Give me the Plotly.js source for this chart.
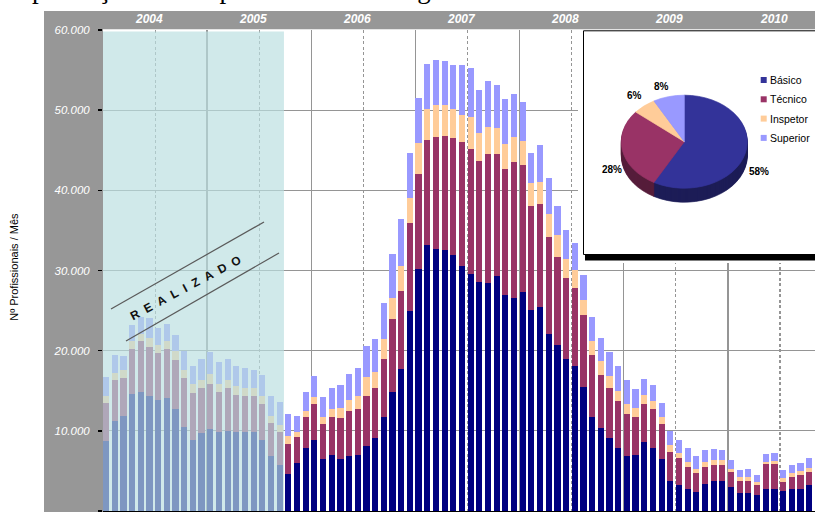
<!DOCTYPE html>
<html>
<head>
<meta charset="utf-8">
<script src="https://cdn.plot.ly/plotly-3.0.1.min.js"></script>
<style>
  html, body { margin: 0; padding: 0; background: #ffffff; }
  #chart { width: 815px; height: 512px; }
</style>
</head>
<body>
<div id="chart"></div>
<script>
// Monthly headcount by professional category, starting January 2004 (one bar per month)
const basico = [
  8700, 11200, 11900, 14600, 14800, 14300, 13800, 14100, 12700, 10500, 8900, 9700,
  10200, 9900, 10000, 9900, 9900, 9900, 8900, 6900, 5800, 4600, 6000, 7800,
  8800, 6500, 7000, 6500, 6800, 7000, 8100, 9100, 11700, 14800, 17700, 25000,
  30200, 33200, 32700, 32600, 31900, 30600, 29600, 28600, 28500, 29300, 26900, 26600,
  27300, 25100, 25500, 22100, 20700, 18900, 18100, 15500, 11700, 10300, 9100, 7800,
  6800, 7000, 8600, 7900, 6500, 3800, 3200, 2700, 2400, 3400, 3800, 3800,
  3000, 2200, 2200, 2000, 2700, 2800, 2500, 2800, 2800, 3300
];
const tecnico = [
  4800, 5200, 4700, 5600, 6400, 6200, 5900, 6100, 6100, 6100, 5800, 5600,
  5600, 4900, 5300, 4600, 4500, 4400, 4400, 4100, 4100, 3800, 3200, 3900,
  4500, 4300, 4700, 5100, 5700, 5700, 6200, 6200, 7200, 9100, 9800, 10900,
  11900, 13100, 14000, 14200, 14600, 15400, 15500, 15100, 16000, 15200, 15800, 16900,
  15900, 12900, 12800, 12100, 11000, 10200, 9700, 9000, 7700, 6700, 6200, 5900,
  5300, 4700, 4700, 4800, 4300, 3600, 3400, 2800, 2300, 2100, 2000, 2000,
  1900, 1600, 1500, 1300, 3200, 3100, 1100, 1500, 1700, 1600
];
const inspetor = [
  900, 800, 1000, 1000, 900, 1100, 1000, 1000, 1100, 1000, 1100, 1100,
  1300, 1100, 1100, 1100, 1000, 1000, 1000, 800, 800, 900, 700, 800,
  900, 900, 1000, 1200, 1300, 1700, 2400, 2100, 2500, 2700, 3100, 3200,
  3800, 3900, 3900, 3900, 3700, 3400, 4100, 3400, 3400, 3300, 3100, 3100,
  2900, 2900, 2700, 2800, 2700, 2300, 2300, 1800, 1800, 1700, 1500, 1300,
  1300, 1200, 1200, 1000, 900, 800, 600, 600, 600, 600, 600, 600,
  300, 500, 500, 300, 200, 300, 500, 500, 500, 500
];
const superior = [
  2300, 2300, 1700, 2000, 2100, 2500, 2100, 2100, 2100, 2400, 2300, 2500,
  2700, 2700, 2600, 2500, 2500, 2300, 2700, 2500, 2900, 2800, 2000, 2300,
  2600, 2500, 2600, 2900, 3300, 3400, 3900, 4000, 4600, 5400, 5800, 5600,
  5600, 5600, 5700, 5400, 5400, 6200, 6100, 5400, 5700, 5400, 5600, 5400,
  4900, 3800, 4600, 4500, 3700, 3600, 3300, 3200, 3000, 2900, 3000, 3100,
  3000, 2300, 2000, 2000, 1800, 1800, 1700, 1700, 1500, 1500, 1300, 1200,
  1200, 800, 1000, 900, 1000, 1000, 1000, 1000, 1000, 1200
];

// Months already executed (start of the series)
const realizedMonths = 21;

const years = ['2004', '2005', '2006', '2007', '2008', '2009', '2010'];
const yTickVals = [0, 10000, 20000, 30000, 40000, 50000, 60000];
const yTickText = ['0', '10.000', '20.000', '30.000', '40.000', '50.000', '60.000'];

// Overall share by category (inset pie)
const pieLabels = ['Básico', 'Técnico', 'Inspetor', 'Superior'];
const pieValues = [58, 28, 6, 8];

// ---------- styling ----------
const barColors = ['#000080', '#993366', '#FFCC99', '#9999FF'];
const pieColors = ['#333399', '#993366', '#FFCC99', '#9999FF'];
const pieSideColors = ['#1d1d57', '#561d3a', '#a3825f', '#5f5fa3'];
const panelGray = '#979797';
const gridGray = '#959595';

const W = 815, H = 512;
const M = { l: 103, r: 0, t: 30, b: 1 };
const plotW = W - M.l - M.r, plotH = H - M.t - M.b;
const px = v => (v - M.l) / plotW;          // pixel -> paper x
const py = v => (H - M.b - v) / plotH;      // pixel -> paper y

const monthIndex = basico.map((_, i) => i);

const series = [
  { name: 'Básico', y: basico },
  { name: 'Técnico', y: tecnico },
  { name: 'Inspetor', y: inspetor },
  { name: 'Superior', y: superior }
];

const traces = series.map((s, k) => ({
  type: 'bar',
  name: s.name,
  x: monthIndex,
  y: s.y,
  width: 0.71,
  offset: 0,
  marker: { color: barColors[k], line: { width: 0 } },
  showlegend: false,
  hoverinfo: 'skip'
}));

// empty trace that hosts the inset frame subplot
traces.push({ type: 'scatter', x: [], y: [], xaxis: 'x2', yaxis: 'y2', showlegend: false, hoverinfo: 'skip' });

// inset pie: darker layers stacked below the top face give the 3D rim
const pie = { cx: 684.3, cy: 141.7, r: 46.5, depth: 14, stretch: 63 / 46.5 };
for (let d = pie.depth; d >= 0; d--) {
  const cols = d === 0 ? pieColors : pieSideColors;
  traces.push({
    type: 'pie',
    values: pieValues,
    labels: pieLabels,
    sort: false,
    direction: 'clockwise',
    rotation: 0,
    textinfo: 'none',
    hoverinfo: 'skip',
    showlegend: false,
    marker: { colors: cols, line: { color: cols, width: 0.6 } },
    domain: {
      x: [px(pie.cx - pie.r), px(pie.cx + pie.r)],
      y: [py(pie.cy + d + pie.r), py(pie.cy + d - pie.r)]
    }
  });
}

const font = 'Liberation Sans, Arial, sans-serif';

const shapes = [
  // grey frame: left panel and top band
  { type: 'rect', xref: 'paper', yref: 'paper', x0: px(44), x1: px(103), y0: py(513), y1: py(11),
    fillcolor: panelGray, line: { width: 0 }, layer: 'below' },
  { type: 'rect', xref: 'paper', yref: 'paper', x0: px(44), x1: px(815), y0: py(29.3), y1: py(11),
    fillcolor: panelGray, line: { width: 0 }, layer: 'below' },
  // executed period highlight
  { type: 'rect', xref: 'x', yref: 'y', x0: 0, x1: realizedMonths - 0.15, y0: 0, y1: 59800,
    fillcolor: 'rgba(186,223,224,0.68)', line: { width: 0 }, layer: 'above' },
  // guide lines around the REALIZADO label
  { type: 'line', xref: 'paper', yref: 'paper', x0: px(111), y0: py(309), x1: px(264), y1: py(222),
    line: { color: '#5a5a5a', width: 1.2 }, layer: 'above' },
  { type: 'line', xref: 'paper', yref: 'paper', x0: px(126), y0: py(341), x1: px(279), y1: py(253),
    line: { color: '#5a5a5a', width: 1.2 }, layer: 'above' },
  // inset frame (drawn in its own subplot, above bars and below the pie)
  { type: 'rect', xref: 'x2', yref: 'y2', x0: 585, x1: 830, y0: 254.5, y1: 260.5,
    fillcolor: '#000', line: { width: 0 }, layer: 'below' },
  { type: 'rect', xref: 'x2', yref: 'y2', x0: 583.5, x1: 830, y0: 30.8, y1: 254.5,
    fillcolor: '#fff', line: { color: '#000', width: 1 }, layer: 'below' }
];

// legend swatches for the pie
const legendRows = [80, 99.3, 118.6, 137.9];
pieLabels.forEach((lab, i) => {
  shapes.push({ type: 'rect', xref: 'paper', yref: 'paper',
    x0: px(760.7), x1: px(766.7), y0: py(legendRows[i] + 3), y1: py(legendRows[i] - 3),
    fillcolor: pieColors[i], line: { width: 0 }, layer: 'above' });
});

const annotations = [];

// heading line of the page (only its lowest strokes fall inside the figure)
annotations.push({
  xref: 'paper', yref: 'paper', x: px(1), y: py(-27.5), xanchor: 'left', yanchor: 'top',
  text: 'Implantação dos empreendimentos de gás', showarrow: false, borderpad: 0,
  font: { family: 'Liberation Serif, Times New Roman, serif', size: 27, color: '#000' }
});

// year labels in the top band
years.forEach((yr, k) => {
  annotations.push({
    xref: 'x', yref: 'paper', x: 12 * k + 5.25, y: py(18.6), xanchor: 'center', yanchor: 'middle',
    text: yr, showarrow: false,
    font: { family: font, size: 12, color: '#fff', weight: 'bold', style: 'italic' }
  });
});

// y axis title
annotations.push({
  xref: 'paper', yref: 'paper', x: px(13.3), y: py(266.5), xanchor: 'center', yanchor: 'middle',
  textangle: -90, text: 'Nº Profissionais / Mês', showarrow: false,
  font: { family: font, size: 11, color: '#000' }
});

// REALIZADO tag
annotations.push({
  xref: 'paper', yref: 'paper', x: px(185.5), y: py(288), xanchor: 'center', yanchor: 'middle',
  textangle: -28, text: 'REALIZADO'.split('').join('\u00a0\u00a0'), showarrow: false,
  font: { family: font, size: 12, color: '#111', weight: 'bold' }
});

// pie percentage labels
const pctPos = [[758.5, 171.7], [612, 169.5], [634.5, 95.5], [661.5, 86]];
pieValues.forEach((v, i) => {
  annotations.push({
    xref: 'paper', yref: 'paper', x: px(pctPos[i][0]), y: py(pctPos[i][1]),
    xanchor: 'center', yanchor: 'middle',
    text: v + '%', showarrow: false,
    font: { family: font, size: 10, color: '#000', weight: 'bold' }
  });
});

// pie legend labels
pieLabels.forEach((lab, i) => {
  annotations.push({
    xref: 'paper', yref: 'paper', x: px(768.3), y: py(legendRows[i]), xanchor: 'left', yanchor: 'middle',
    text: lab, showarrow: false,
    font: { family: font, size: 10.5, color: '#000' }
  });
});

const layout = {
  width: W, height: H,
  margin: M,
  paper_bgcolor: '#ffffff',
  plot_bgcolor: '#ffffff',
  barmode: 'stack',
  showlegend: false,
  xaxis: {
    range: [0, 82.03],
    showticklabels: false,
    ticks: '',
    tick0: 0, dtick: 12,
    showgrid: true, gridcolor: gridGray, gridwidth: 1.4,
    minor: { tick0: 0, dtick: 6, showgrid: true, gridcolor: gridGray, gridwidth: 1.1, griddash: '3px,2.5px', ticks: '' },
    zeroline: false,
    showline: true, linecolor: '#000', linewidth: 1.5,
    fixedrange: true
  },
  yaxis: {
    range: [0, 60000],
    tickmode: 'array', tickvals: yTickVals, ticktext: yTickText,
    ticks: 'outside', ticklen: 4, tickwidth: 1.5, tickcolor: '#000',
    ticklabelstandoff: 6,
    tickfont: { family: font, size: 11.5, color: '#fff', style: 'italic' },
    showgrid: true, gridcolor: gridGray, gridwidth: 1.3,
    zeroline: false, showline: false,
    fixedrange: true
  },
  xaxis2: { domain: [px(578), 1], range: [578, 815], anchor: 'y2', visible: false, fixedrange: true },
  yaxis2: { domain: [py(263), 1], range: [263, 30], anchor: 'x2', visible: false, fixedrange: true },
  shapes: shapes,
  annotations: annotations
};

Plotly.newPlot('chart', traces, layout, { staticPlot: true, displayModeBar: false }).then(gd => {
  // widen the pie horizontally into the tilted (elliptical) view
  const layer = gd.querySelector('.pielayer');
  if (layer) {
    const s = pie.stretch;
    layer.setAttribute('transform', `translate(${pie.cx * (1 - s)},0) scale(${s},1)`);
  }
});
</script>
</body>
</html>
